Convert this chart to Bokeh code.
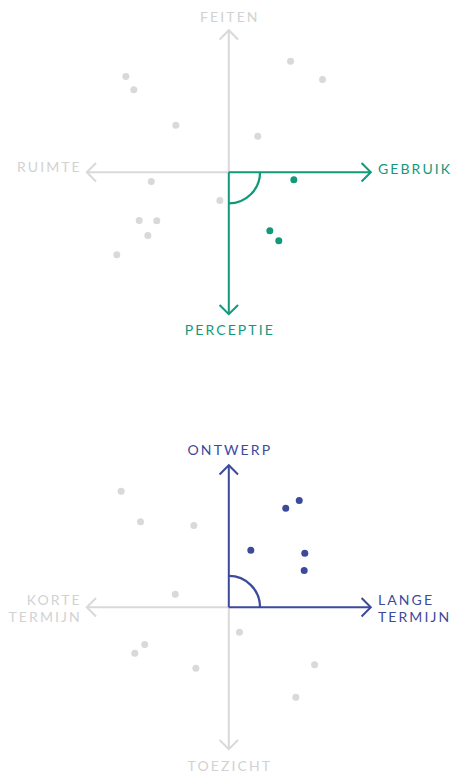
from bokeh.plotting import figure
from bokeh.layouts import column
from bokeh.models import InlineStyleSheet
from bokeh.core.properties import value
from bokeh.embed import file_html
from bokeh.resources import INLINE

GREEN = "#11997a"
BLUE = "#3c4a9c"
GRAY = "#d9d9d9"
GRAY_TEXT = "#d2d2d2"
FONT = "Lato"

# ---- chart 1: FEITEN / RUIMTE / GEBRUIK / PERCEPTIE ----
c1_labels = ["FEITEN", "RUIMTE", "GEBRUIK", "PERCEPTIE"]          # up, left, right, down
c1_colors = [GRAY, GRAY, GREEN, GREEN]
c1_gray_x = [4.35, 6.60, -7.25, -6.69, -3.73, 2.04, -5.46, -0.63, -6.31, -5.07, -5.70, -7.89]
c1_gray_y = [7.82, 6.53, 6.74, 5.80, 3.31, 2.54, -0.65, -1.99, -3.40, -3.42, -4.46, -5.82]
c1_hi_x = [4.58, 2.89, 3.52]
c1_hi_y = [-0.54, -4.13, -4.83]

# ---- chart 2: ONTWERP / KORTE TERMIJN / LANGE TERMIJN / TOEZICHT ----
c2_labels = ["ONTWERP", "KORTE\nTERMIJN", "LANGE\nTERMIJN", "TOEZICHT"]
c2_colors = [BLUE, GRAY, BLUE, GRAY]
c2_gray_x = [-7.58, -6.22, -2.46, -3.77, 0.75, -5.92, -6.62, -2.32, 6.04, 4.72]
c2_gray_y = [8.17, 6.01, 5.75, 0.92, -1.76, -2.63, -3.24, -4.30, -4.06, -6.34]
c2_hi_x = [4.96, 4.01, 1.55, 5.35, 5.31]
c2_hi_y = [7.51, 6.97, 4.01, 3.80, 2.58]

L = 10.0        # axis half length
HEAD = 0.65     # arrow head size
ARC_R = 2.2
S = 14.2        # px per unit
W = 452
OX = 228.3
LS = 2.1        # letter spacing, px
LINE_GAP = 17 / S

DIRS = [(0, 1), (-1, 0), (1, 0), (0, -1)]

css = InlineStyleSheet(css=":host { letter-spacing: %.1fpx; }" % LS)


def chart(height, origin_top, labels, colors, gx, gy, hx, hy, hcolor, arc_start, arc_end,
          side_dy, top_gap, bottom_gap):
    p = figure(width=W, height=height, output_backend="svg", toolbar_location=None,
               x_range=(-OX / S, (W - OX) / S),
               y_range=(-(height - origin_top) / S, origin_top / S),
               min_border=0, outline_line_color=None, background_fill_color="white",
               border_fill_color="white")
    p.xaxis.visible = False
    p.yaxis.visible = False
    p.grid.visible = False
    p.stylesheets = [css]

    # axes with open arrow heads; grey first so coloured ones sit on top
    order = sorted(range(4), key=lambda i: colors[i] != GRAY)
    for i in order:
        dx, dy = DIRS[i]
        tx, ty = L * dx, L * dy
        px, py = -dy, dx
        p.line([0, tx], [0, ty], line_color=colors[i], line_width=2)
        p.line([tx - HEAD * dx + HEAD * px, tx, tx - HEAD * dx - HEAD * px],
               [ty - HEAD * dy + HEAD * py, ty, ty - HEAD * dy - HEAD * py],
               line_color=colors[i], line_width=2, line_join="miter")

    p.arc(x=0, y=0, radius=ARC_R, start_angle=arc_start, end_angle=arc_end,
          line_color=hcolor, line_width=2.3)

    p.scatter(gx, gy, size=7, fill_color=GRAY, line_color=None)
    p.scatter(hx, hy, size=7, fill_color=hcolor, line_color=None)

    # labels (letter-spaced; offsets compensate the extra width for alignment)
    lx = [0, -(L + 0.5), L + 0.5, 0]
    ly = [L + top_gap, side_dy[0], side_dy[1], -(L + bottom_gap)]
    align = ["center", "right", "left", "center"]
    for i in range(4):
        lines = labels[i].split("\n")
        n = len(lines)
        for k, line in enumerate(lines):
            y = ly[i] + ((n - 1) / 2 - k) * LINE_GAP
            extra = (len(line) - 1) * LS
            xoff = {"center": -extra / 2, "right": -extra, "left": 0}[align[i]]
            p.text(x=[lx[i]], y=[y], text=[line], x_offset=xoff,
                   text_color=colors[i] if colors[i] != GRAY else GRAY_TEXT,
                   text_font=value(FONT), text_font_size="14px",
                   text_align=align[i], text_baseline="middle")
    return p


p1 = chart(340, 171.7, c1_labels, c1_colors, c1_gray_x, c1_gray_y, c1_hi_x, c1_hi_y,
           GREEN, -1.5708, 0, (0.38, 0.28), 0.95, 1.05)
p2 = chart(435, 606.7 - 340, c2_labels, c2_colors, c2_gray_x, c2_gray_y, c2_hi_x, c2_hi_y,
           BLUE, 0, 1.5708, (-0.05, -0.05), 1.1, 1.15)

layout = column(p1, p2, spacing=0)
open("out.html", "w").write(file_html(layout, INLINE))
